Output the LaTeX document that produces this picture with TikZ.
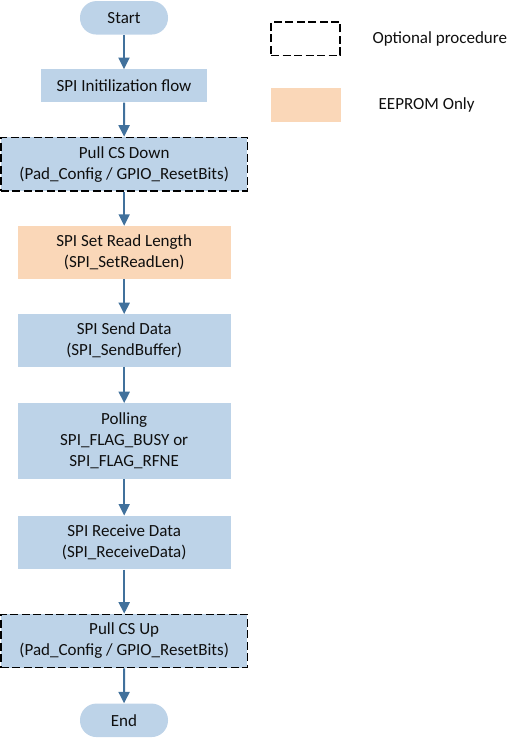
\documentclass[tikz,border=0pt]{standalone}
\usepackage{fontspec}
\setmainfont{Carlito}
\usetikzlibrary{arrows.meta}
\definecolor{boxblue}{RGB}{189,211,232}
\definecolor{boxorange}{RGB}{250,215,184}
\definecolor{arrowblue}{RGB}{65,113,156}
\definecolor{txt}{RGB}{15,15,15}
\begin{document}
\begin{tikzpicture}[x=1pt,y=-1pt,
  every node/.style={font=\fontsize{17}{21}\selectfont, text=txt, align=center, inner sep=0pt},
  proc/.style={fill=boxblue, minimum width=213pt},
  term/.style={fill=boxblue, rounded corners=16.5pt, minimum width=88pt, minimum height=33.5pt},
  optional/.style={draw=black, line width=1.3pt, dash pattern=on 8pt off 3.5pt},
  eeprom/.style={fill=boxorange},
  flow/.style={draw=arrowblue, line width=2pt, -{Triangle[width=11pt,length=11.5pt]}}
]
\useasboundingbox (0,0) rectangle (520,740);

\node[term] (start) at (124,17.8) {Start};
\node[proc, minimum width=166pt, minimum height=33pt] (init) at (124,85.8) {SPI Initilization flow};
\node[proc, optional, minimum width=246.5pt, minimum height=53.7pt] (pulldown) at (124.2,164.2) {Pull CS Down\\(Pad\_Config / GPIO\_ResetBits)};
\node[proc, eeprom, minimum height=52.7pt] (setread) at (124.2,252.3) {SPI Set Read Length\\(SPI\_SetReadLen)};
\node[proc, minimum height=52.4pt] (send) at (124.2,340.5) {SPI Send Data\\(SPI\_SendBuffer)};
\node[proc, minimum height=75.7pt] (poll) at (124.2,441.2) {Polling\\SPI\_FLAG\_BUSY or\\SPI\_FLAG\_RFNE};
\node[proc, minimum height=53.6pt] (receive) at (124.2,542.5) {SPI Receive Data\\(SPI\_ReceiveData)};
\node[proc, optional, minimum width=246.5pt, minimum height=53.4pt] (pullup) at (124.2,641) {Pull CS Up\\(Pad\_Config / GPIO\_ResetBits)};
\node[term] (end) at (124,720.3) {End};

\draw[flow] (start) -- (init);
\draw[flow] (init) -- (pulldown);
\draw[flow] (pulldown) -- (setread);
\draw[flow] (setread) -- (send);
\draw[flow] (send) -- (poll);
\draw[flow] (poll) -- (receive);
\draw[flow] (receive) -- (pullup);
\draw[flow] (pullup) -- (end);

\node[optional, minimum width=69pt, minimum height=33.5pt] (legopt) at (305.5,38.7) {};
\node[anchor=west] (legopttext) at (372.3,39) {Optional procedure};
\node[eeprom, minimum width=70pt, minimum height=33.4pt] (legee) at (306,105) {};
\node[anchor=west] (legeetext) at (378.5,105) {EEPROM Only};
\end{tikzpicture}
\end{document}
